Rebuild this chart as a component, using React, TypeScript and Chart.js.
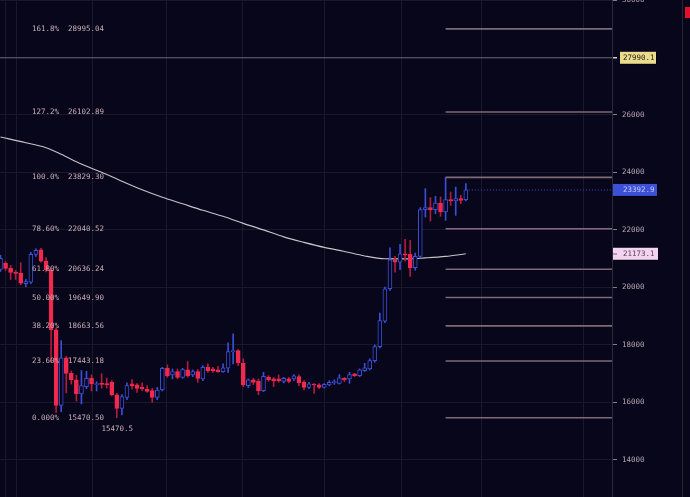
import React, { useEffect, useRef } from "react";
import { Chart, registerables } from "chart.js";

Chart.register(...registerables);

// ---- data ----
const opens = [
  20628, 20837, 20663, 20524, 20500, 20130, 20186, 21151, 21314, 20918,
  20617, 18527, 15900, 17551, 17015, 16785, 16298, 16552, 16842, 16620,
  16660, 16650, 16702, 16263, 15790, 16180, 16647, 16611, 16528, 16471,
  16412, 16180, 16436, 17190, 16960, 17074, 16876, 17133, 16960, 17074,
  16820, 17225, 17167, 17133, 17074, 17190, 17771, 17806, 17364, 16587,
  16785, 16737, 16412, 16876, 16820, 16820, 16737, 16820, 16820, 16900,
  16702, 16528, 16635, 16611, 16528, 16611, 16690, 16667, 16842, 16820,
  16994, 16935, 17109, 17167, 17458, 17946, 18827, 19955, 20965, 20883,
  21175, 21151, 20687, 21081, 22708, 22778, 22708, 22940, 22626, 23057,
  23010, 23091, 23057,
];
const highs = [
  21116, 20907, 20767, 20593, 20861, 20280, 21220, 21349, 21360, 21040,
  20680, 18600, 18154, 17597, 17100, 16950, 17109, 17085, 16960, 16720,
  17000, 16850, 16760, 16320, 16273, 16681, 16796, 16656, 16681, 16587,
  16493, 16528, 17225, 17307, 17167, 17167, 17190, 17423, 17133, 17150,
  17283, 17342, 17225, 17259, 17342, 18074, 18387, 17841, 17517, 16820,
  16840, 16820, 17050, 16935, 16876, 16959, 16876, 16876, 16970, 16960,
  16760, 16700, 16667, 16660, 16660, 16760, 16790, 16970, 16876, 17050,
  17020, 17170, 17364, 17520, 18000, 19106, 20012, 21384, 21081, 21499,
  21673, 21638, 21197, 22778, 23440, 23126, 23171, 23148, 23829.3, 23321,
  23495, 23206, 23614,
];
const lows = [
  20558, 20593, 20280, 20280, 20095, 20030, 20130, 21080, 20880, 20540,
  17400, 15657, 15681, 16332, 16640, 16050, 15949, 16480, 16400, 16400,
  16500, 16500, 16230, 15470.5, 15566, 16099, 16471, 16353, 16412, 16353,
  16005, 16099, 16400, 16876, 16820, 16820, 16841, 16876, 16900, 16702,
  16761, 17050, 17050, 17050, 17050, 17050, 17342, 17283, 16552, 16520,
  16621, 16273, 16380, 16737, 16552, 16702, 16680, 16680, 16760, 16587,
  16436, 16480, 16318, 16480, 16500, 16580, 16630, 16640, 16720, 16667,
  16900, 16900, 17080, 17130, 17400, 17900, 18780, 19900, 20534, 20616,
  20918, 20384, 20600, 21035, 22451, 22311, 22568, 22475, 22335, 22858,
  22509, 22917, 23010,
];
const closes = [
  21011, 20663, 20524, 20489, 20150, 20210, 21151, 21290, 20918, 20617,
  18527, 15900, 17551, 17015, 16785, 16298, 16587, 16842, 16646, 16660,
  16630, 16620, 16263, 15790, 16203, 16587, 16587, 16493, 16471, 16388,
  16180, 16436, 17190, 16935, 17074, 16876, 17144, 16935, 17074, 16841,
  17225, 17109, 17109, 17074, 17202, 17771, 17806, 17377, 16621, 16785,
  16702, 16412, 16911, 16796, 16761, 16761, 16842, 16737, 16924, 16681,
  16528, 16647, 16610, 16528, 16632, 16702, 16726, 16855, 16785, 16970,
  16935, 17133, 17202, 17458, 17946, 18851, 19955, 20965, 20883, 21175,
  21128, 20687, 21081, 22708, 22778, 22708, 22940, 22626, 23057, 23010,
  23091, 23032, 23392.9,
];

const maIndex = [0, 5, 9, 12, 16, 20, 24, 28, 32, 36, 40, 44, 48, 52, 56, 60, 64, 68, 72, 76, 80, 84, 88, 92];
const maValues = [
  25234, 25035, 24861, 24635, 24293, 24008, 23694, 23398, 23137, 22910, 22684, 22475,
  22231, 22004, 21760, 21569, 21395, 21255, 21098, 21001, 20994, 21029, 21081, 21173.1,
];

const fibRatios = ["161.8%", "127.2%", "100.0%", "78.60%", "61.80%", "50.00%", "38.20%", "23.60%", "0.000%"];
const fibValues = [28995.04, 26102.89, 23829.3, 22040.52, 20636.24, 19649.9, 18663.56, 17443.18, 15470.5];

const yTicks = [14000, 16000, 18000, 20000, 22000, 24000, 26000, 28000, 30000];
const xGridTicks = [0.9, 3.1, 18.1, 32.9, 47.9, 64, 79.2, 95, 115.2];

const hLineValue = 27990.1;
const lastPrice = 23392.9;
const maLast = 21173.1;
const lowValue = 15470.5;
const lowIndex = 23;
const highIndex = 88;

const X_MIN = -0.1;
const X_MAX = 120.9;
const Y_MIN = 12713;
const Y_MAX = 30000;

// ---- styles ----
const BG = "#07061a";
const GRID = "#1a1829";
const AXIS = "#2c2a3a";
const TICK = "#8a7a88";
const LABEL = "#b8a2ae";
const RED = "#f2294e";
const RED_WICK = "#b01c3c";
const BLUE = "#3a4fd6";
const MA = "#c9c0c9";
const FIB = "#7e6a74";
const FIB_TEXT = "#c9acb6";
const HLINE = "#6a6074";
const FONT_FAMILY = "'DejaVu Sans Mono', monospace";
const FONT = "7.5px " + FONT_FAMILY;

function drawBox(ctx: CanvasRenderingContext2D, x: number, y: number, w: number, text: string, bg: string, fg: string) {
  ctx.fillStyle = "rgba(0,0,0,0.6)";
  ctx.fillRect(x + 1, y - 6 + 1, w, 12);
  ctx.fillStyle = bg;
  ctx.fillRect(x, y - 6, w, 12);
  ctx.fillStyle = fg;
  ctx.textAlign = "left";
  ctx.textBaseline = "middle";
  ctx.fillText(text, 623, y + 0.5);
}

export default function App() {
  const ref = useRef<HTMLCanvasElement>(null);

  useEffect(() => {
    document.body.style.margin = "0";
    document.body.style.background = BG;
    const idx = opens.map((_, i) => i);
    const up = idx.map((i) => closes[i] >= opens[i]);

    const overlay = {
      id: "overlay",
      beforeDraw(c: any) {
        const ctx = c.ctx;
        ctx.save();
        ctx.fillStyle = BG;
        ctx.fillRect(0, 0, c.width, c.height);
        ctx.restore();
      },
      afterDraw(c: any) {
        const ctx: CanvasRenderingContext2D = c.ctx;
        const xs = c.scales.x;
        const ys = c.scales.y;
        ctx.save();
        ctx.font = FONT;
        ctx.textBaseline = "middle";
        ctx.textAlign = "left";
        ctx.fillStyle = FIB_TEXT;
        fibValues.forEach((v, i) => {
          const y = Math.round(ys.getPixelForValue(v)) + 0.5;
          ctx.fillText(fibRatios[i], 32, y);
          ctx.fillText(v.toFixed(2), 68, y);
        });
        ctx.textAlign = "center";
        ctx.fillText(String(lowValue), xs.getPixelForValue(lowIndex) + 0.5, ys.getPixelForValue(lowValue) + 11);

        // axis price boxes
        const right = c.chartArea.right;
        const yH = ys.getPixelForValue(hLineValue);
        ctx.fillStyle = "#d8c8c8";
        ctx.fillRect(right + 1, Math.round(yH) - 1, 4, 1.5);
        drawBox(ctx, right + 8, yH, 36, hLineValue.toFixed(1), "#ebdb8c", "#1e1c16");
        drawBox(ctx, right + 1, ys.getPixelForValue(lastPrice), 44, lastPrice.toFixed(1), "#3d50d8", "#c4caf6");
        const yM = ys.getPixelForValue(maLast);
        drawBox(ctx, right + 1, yM, 45, maLast.toFixed(1), "#f2d3f0", "#5e3e56");
        ctx.fillStyle = "#b898b0";
        ctx.fillRect(right + 1, Math.round(yM) - 1, 4, 2);

        // right side panel
        ctx.fillStyle = "#262433";
        ctx.fillRect(682, 0, 1, c.height);
        ctx.fillStyle = "#e2102c";
        ctx.fillRect(685, 7, 5, 11);
        ctx.restore();
      },
    };

    const lineDs = (data: { x: number; y: number }[], color: string, width: number, order: number, extra: any = {}) => ({
      type: "line",
      data,
      borderColor: color,
      borderWidth: width,
      pointRadius: 0,
      fill: false,
      order,
      ...extra,
    });

    const datasets: any[] = [
      {
        type: "bar",
        data: idx.map((i) => ({ x: i, y: [Math.min(opens[i], closes[i]), Math.max(opens[i], closes[i])] })),
        backgroundColor: idx.map((i) => (up[i] ? BG : RED)),
        borderColor: idx.map((i) => (up[i] ? BLUE : RED)),
        borderWidth: 1,
        borderSkipped: false,
        barThickness: 4,
        minBarLength: 1,
        grouped: false,
        order: 1,
      },
      {
        type: "bar",
        data: idx.map((i) => ({ x: i, y: [lows[i], highs[i]] })),
        backgroundColor: idx.map((i) => (up[i] ? BLUE : RED_WICK)),
        borderWidth: 0,
        barThickness: 1,
        grouped: false,
        order: 2,
      },
      lineDs(maIndex.map((k, i) => ({ x: k, y: maValues[i] })), MA, 1.1, 5, { tension: 0.4, cubicInterpolationMode: "monotone" }),
      lineDs([{ x: X_MIN, y: hLineValue }, { x: X_MAX, y: hLineValue }], HLINE, 1, 6),
      lineDs([{ x: idx.length - 1, y: lastPrice }, { x: X_MAX, y: lastPrice }], BLUE, 1, 4, { borderDash: [1, 2] }),
      ...fibValues.map((v, i) =>
        lineDs([{ x: highIndex, y: v }, { x: X_MAX, y: v }], i === 3 ? "#c89cb4" : FIB, i === 3 ? 1 : 1.6, 0)
      ),
    ];

    const chart = new Chart(ref.current as HTMLCanvasElement, {
      type: "bar",
      data: { datasets },
      options: {
        responsive: false,
        animation: false,
        devicePixelRatio: 1,
        layout: { padding: 0, autoPadding: false },
        plugins: { legend: { display: false }, tooltip: { enabled: false } },
        scales: {
          x: {
            type: "linear",
            min: X_MIN,
            max: X_MAX,
            offset: false,
            ticks: { display: false },
            grid: { color: GRID, drawTicks: false, offset: false },
            border: { display: false },
            afterBuildTicks: (s: any) => {
              s.ticks = xGridTicks.map((v) => ({ value: v }));
            },
            afterFit: (s: any) => {
              s.height = 0;
              s.paddingLeft = 0;
              s.paddingRight = 0;
            },
          },
          y: {
            type: "linear",
            position: "right",
            min: Y_MIN,
            max: Y_MAX,
            ticks: {
              color: LABEL,
              font: { family: FONT_FAMILY, size: 7.5 },
              padding: 5,
              callback: (v: any) => String(v),
            },
            grid: { color: GRID, tickColor: TICK, tickLength: 5 },
            border: { color: AXIS },
            afterBuildTicks: (s: any) => {
              s.ticks = yTicks.map((v) => ({ value: v }));
            },
            afterFit: (s: any) => {
              s.width = 78;
              s.paddingTop = 0;
              s.paddingBottom = 0;
            },
          },
        },
      } as any,
      plugins: [overlay as any],
    });
    return () => chart.destroy();
  }, []);

  return (
    <div style={{ width: 690, height: 497, position: "relative", background: BG }}>
      <canvas ref={ref} width={690} height={497} style={{ display: "block", width: 690, height: 497 }} />
    </div>
  );
}
